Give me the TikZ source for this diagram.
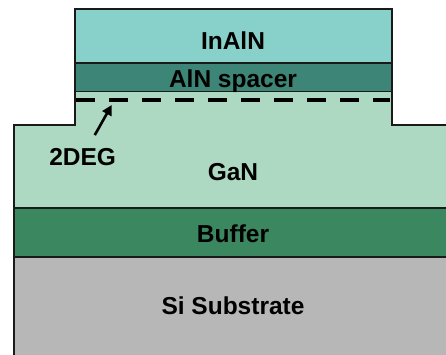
\documentclass[tikz,border=0pt]{standalone}
\usepackage{fontspec}
\setmainfont{Liberation Sans}
\usetikzlibrary{arrows.meta, positioning}
\definecolor{cinaln}{HTML}{87D1CA}
\definecolor{cspacer}{HTML}{3D8576}
\definecolor{cgan}{HTML}{ADD8C1}
\definecolor{cbuffer}{HTML}{3B8760}
\definecolor{csub}{HTML}{B7B7B7}
\definecolor{cline}{HTML}{1A1A1A}
\tikzset{
  every picture/.style={line width=1.2pt},
  layer/.style={draw=cline, fill=#1, inner sep=0pt, outer sep=0pt, minimum width=317pt},
  lbl/.style={font=\bfseries\fontsize{24.5}{28}\selectfont, anchor=base, inner sep=0pt},
  arrow/.style={-{Triangle[length=10pt, width=10pt]}, line width=2.6pt},
  deg/.style={line width=4.5pt, dash pattern=on 19pt off 14pt},
}
\begin{document}
\begin{tikzpicture}[x=1pt, y=-1pt, node distance=0pt]
  \useasboundingbox (0,0) rectangle (446,354);
  \clip (0,0) rectangle (446,354);
  % layer stack
  \node[layer=cinaln, minimum height=54pt] (inaln) at (233.5,36) {};
  \node[layer=cspacer, minimum height=29pt, below=of inaln] (spacer) {};
  \path[fill=cgan] (75,92) -- (392,92) -- (392,125) -- (460,125) -- (460,208)
    -- (14,208) -- (14,125) -- (75,125) -- cycle;
  \draw[cline] (75,92) -- (75,125) -- (14,125) -- (14,208);
  \draw[cline] (392,92) -- (392,125) -- (460,125);
  \node[layer=cbuffer, minimum width=446pt, minimum height=49pt] (buffer) at (237,232.5) {};
  \node[layer=csub, minimum width=446pt, minimum height=100pt, below=of buffer] (sub) {};
  % labels
  \node[lbl] (linaln) at (233,49) {InAlN};
  \node[lbl] (lspacer) at (233,87) {AlN spacer};
  \node[lbl] (lgan) at (233,180) {GaN};
  \node[lbl] (lbuffer) at (233,242) {Buffer};
  \node[lbl] (lsub) at (233,314) {Si Substrate};
  % 2DEG
  \coordinate (degL) at (76,100);
  \coordinate (degR) at (390,100);
  \draw[deg] (degL) -- (degR);
  \node[lbl] (ldeg) at (82.7,165) {2DEG};
  \coordinate (degtip) at (111.7,105);
  \draw[arrow, shorten <=14pt] (ldeg) -- (degtip);
\end{tikzpicture}
\end{document}
